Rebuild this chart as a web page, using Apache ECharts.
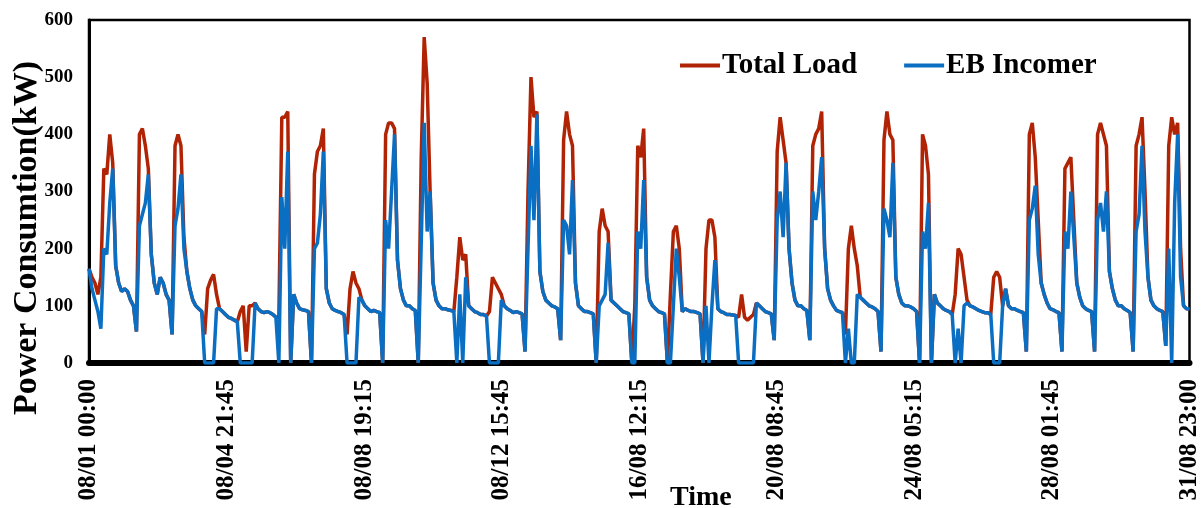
<!DOCTYPE html>
<html>
<head>
<meta charset="utf-8">
<script src="https://cdn.jsdelivr.net/npm/echarts@6/dist/echarts.min.js"></script>
<style>
html,body{margin:0;padding:0;background:#fff;}
#chart{width:1202px;height:508px;}
</style>
</head>
<body>
<div id="chart"></div>
<script>
// Two-hourly readings (00,02,...,22 h) for each day, 08/01 .. 31/08
const tickLabels = ['08/01 00:00','08/04 21:45','08/08 19:15','08/12 15:45','16/08 12:15','20/08 08:45','24/08 05:15','28/08 01:45','31/08 23:00'];
const seriesNames = ['Total Load','EB Incomer'];

const totalLoad = [
 165,150,140,120,150,340,330,400,350,170,140,125,
 130,125,110,100,55,400,410,380,340,190,140,120,
 150,140,120,110,50,380,400,380,220,160,130,110,
 100,95,90,50,130,145,155,120,95,90,85,80,
 78,75,72,90,100,20,100,100,105,95,90,88,
 90,88,85,80,80,430,430,440,0,120,105,95,
 93,92,90,0,330,370,380,410,130,105,95,92,
 90,88,85,50,130,160,140,130,110,100,95,90,
 92,90,88,0,400,420,420,410,180,130,110,100,
 100,95,92,0,360,570,490,300,140,110,100,95,
 95,93,92,90,150,220,180,190,100,95,90,88,
 85,85,82,90,150,140,130,120,100,95,92,88,
 90,88,86,20,300,500,430,440,160,125,110,105,
 100,98,95,40,390,440,400,380,140,100,95,90,
 90,88,86,0,230,270,240,230,110,105,100,95,
 90,88,86,0,100,380,360,410,150,110,100,95,
 90,88,86,0,120,230,240,200,90,95,92,90,
 90,88,86,0,200,250,250,220,95,90,88,85,
 85,84,83,80,120,80,75,80,85,105,100,95,
 90,88,86,40,370,430,390,350,200,140,110,100,
 100,95,92,40,380,400,410,440,200,130,110,100,
 92,90,88,50,200,240,200,170,115,110,105,100,
 98,95,90,20,390,440,400,390,150,120,105,100,
 100,98,95,90,0,400,380,330,0,120,105,100,
 95,92,90,85,120,200,190,150,110,100,98,95,
 92,90,88,88,85,150,160,150,100,130,100,95,
 95,92,90,88,20,400,420,360,250,140,120,105,
 95,93,90,88,20,340,350,360,250,140,115,100,
 95,92,90,20,400,420,400,380,160,130,110,100,
 100,95,92,88,20,380,400,430,300,150,110,100,
 95,92,90,30,380,430,400,420,200,100,95,95
];

const ebIncomer = [
 165,130,110,90,60,200,190,280,340,170,140,125,
 130,125,110,100,55,240,260,280,330,190,140,120,
 150,140,120,110,50,240,270,330,200,160,130,110,
 100,95,90,0,0,0,0,95,95,90,85,80,
 78,75,72,0,0,0,0,0,105,95,90,88,
 90,88,85,80,0,290,200,370,0,120,105,95,
 93,92,90,0,200,210,260,370,130,105,95,92,
 90,88,85,0,0,0,0,115,110,100,95,90,
 92,90,88,0,250,200,300,400,180,130,110,100,
 100,95,92,0,210,420,230,300,140,110,100,95,
 95,93,92,90,0,120,0,150,100,95,90,88,
 85,85,82,0,0,0,0,110,100,95,92,88,
 90,88,86,20,200,380,250,435,160,125,110,105,
 100,98,95,40,250,240,190,320,140,100,95,90,
 90,88,86,0,100,110,120,210,110,105,100,95,
 90,88,86,0,0,230,200,320,150,110,100,95,
 90,88,86,0,0,100,200,150,90,95,92,90,
 90,88,86,0,100,0,100,180,95,90,88,85,
 85,84,83,0,0,0,0,0,0,105,100,95,
 90,88,86,40,250,300,220,350,200,140,110,100,
 100,95,92,40,300,250,300,360,200,130,110,100,
 92,90,88,0,60,0,0,120,115,110,105,100,
 98,95,90,20,270,250,220,350,150,120,105,100,
 100,98,95,90,0,230,200,280,0,120,105,100,
 95,92,90,85,0,60,0,100,105,100,98,95,
 92,90,88,88,85,0,0,0,100,130,100,95,
 95,92,90,88,20,250,270,310,190,140,120,105,
 95,93,90,88,20,230,200,300,220,140,115,100,
 95,92,90,20,250,280,230,300,160,130,110,100,
 100,95,92,88,20,230,260,380,230,150,110,100,
 95,92,90,30,200,0,280,400,150,100,95,95
];

const yTicks = [0,100,200,300,400,500,600];

const FONT = '"Liberation Serif","Times New Roman",serif';
const lastIdx = totalLoad.length - 1;
const step = lastIdx / (tickLabels.length - 1);

const chart = echarts.init(document.getElementById('chart'), null, {renderer:'canvas'});
chart.setOption({
  animation: false,
  backgroundColor: '#fff',
  grid: {left: 89, right: 12, top: 20, bottom: 145, show: true, borderColor: '#000', borderWidth: 2.5, containLabel: false},
  legend: {
    left: 675, top: 46,
    itemWidth: 40, itemHeight: 4, itemGap: 47, icon: 'rect',
    textStyle: {fontFamily: FONT, fontWeight: 'bold', fontSize: 29, color: '#000', padding: [0,0,0,-3]},
    data: seriesNames
  },
  xAxis: {
    type: 'value', min: 0, max: lastIdx, interval: step,
    axisLine: {show: true, onZero: false, lineStyle: {color: '#000', width: 6}},
    axisTick: {show: false},
    splitLine: {show: false},
    axisLabel: {
      rotate: 90, margin: 16, showMaxLabel: true, showMinLabel: true,
      fontFamily: FONT, fontWeight: 'bold', fontSize: 25, color: '#000',
      formatter: v => tickLabels[Math.round(v / step)] || ''
    }
  },
  yAxis: {
    type: 'value', min: yTicks[0], max: yTicks[yTicks.length-1], interval: 100,
    axisLine: {show: true, lineStyle: {color: '#000', width: 3}},
    axisTick: {show: false},
    splitLine: {show: false},
    axisLabel: {margin: 16, fontFamily: FONT, fontWeight: 'bold', fontSize: 19, color: '#000'}
  },
  graphic: [
    {type: 'text', left: 670, top: 484,
     style: {text: 'Time', font: 'bold 28px "Liberation Serif"', fill: '#000'}},
    {type: 'text', x: 27, y: 238, rotation: Math.PI / 2,
     style: {text: 'Power Consumtion(kW)', font: 'bold 34px "Liberation Serif"', fill: '#000',
             align: 'center', verticalAlign: 'middle'}}
  ],
  series: [
    {name: seriesNames[0], type: 'line', showSymbol: false, symbol: 'none', color: '#B02405',
     lineStyle: {width: 3.5, color: '#B02405'}, z: 2,
     data: totalLoad.map((v,i) => [i, v])},
    {name: seriesNames[1], type: 'line', showSymbol: false, symbol: 'none', color: '#0A6FC2',
     lineStyle: {width: 3.5, color: '#0A6FC2'}, z: 3,
     data: ebIncomer.map((v,i) => [i, v])}
  ]
});
</script>
</body>
</html>
